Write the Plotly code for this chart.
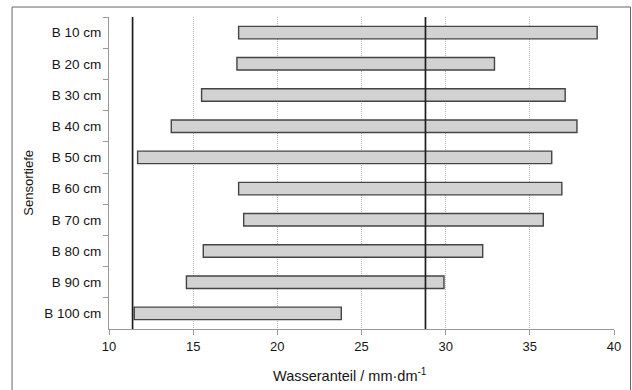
import plotly.graph_objects as go

# Sensor depths and the observed range of water content per depth
depths = ["B 10 cm", "B 20 cm", "B 30 cm", "B 40 cm", "B 50 cm",
          "B 60 cm", "B 70 cm", "B 80 cm", "B 90 cm", "B 100 cm"]
range_min = [17.7, 17.6, 15.5, 13.7, 11.7, 17.7, 18.0, 15.6, 14.6, 11.5]
range_max = [39.0, 32.9, 37.1, 37.8, 36.3, 36.9, 35.8, 32.2, 29.9, 23.8]

# Reference lines (lower and upper water content marks)
ref_lines = [11.4, 28.8]

x_ticks = [10, 15, 20, 25, 30, 35, 40]

FONT = "Liberation Sans, Arial, sans-serif"
TEXT = "#151515"

fig = go.Figure()
fig.add_trace(go.Bar(
    y=depths,
    base=range_min,
    x=[hi - lo for lo, hi in zip(range_min, range_max)],
    orientation="h",
    width=0.4,
    marker=dict(color="#d2d2d2", line=dict(color="#444444", width=1.4)),
    showlegend=False,
))

for xv in ref_lines:
    fig.add_shape(type="line", xref="x", yref="paper",
                  x0=xv, x1=xv, y0=0, y1=1,
                  line=dict(color="#1e1e1e", width=1.7))

# Outer frame around the chart
fig.add_shape(type="rect", xref="paper", yref="paper",
              x0=-0.192, x1=1.0327, y0=-0.25, y1=1.032,
              line=dict(color="#666666", width=1), layer="below")

# Axis titles placed as annotations
fig.add_annotation(text="Wasseranteil / mm·dm<sup>-1</sup>",
                   xref="paper", yref="paper", x=0.477, y=-0.147,
                   showarrow=False, xanchor="center", yanchor="middle",
                   font=dict(family=FONT, size=14.5, color=TEXT))
fig.add_annotation(text="Sensortiefe", textangle=-90,
                   xref="paper", yref="paper", x=-0.160, y=0.4696,
                   showarrow=False, xanchor="center", yanchor="middle",
                   font=dict(family=FONT, size=13, color=TEXT))

fig.update_layout(
    width=632, height=390,
    margin=dict(l=109, r=18, t=17, b=61),
    paper_bgcolor="white", plot_bgcolor="white",
    font=dict(family=FONT, size=13, color=TEXT),
    xaxis=dict(
        range=[10, 40], tickvals=x_ticks, ticktext=[str(v) for v in x_ticks],
        showgrid=True, gridcolor="#b8b8b8", griddash="1px,1px", gridwidth=1,
        showline=True, linecolor="#999999", linewidth=1,
        ticks="outside", ticklen=5, tickcolor="#999999",
        zeroline=False,
        tickfont=dict(size=13),
    ),
    yaxis=dict(
        categoryorder="array", categoryarray=depths, autorange="reversed",
        showgrid=False, showline=True, linecolor="#999999", linewidth=1,
        ticks="outside", ticklen=5, tickcolor="#999999",
        tickson="boundaries",
        tickfont=dict(size=13.5),
        ticklabelstandoff=4,
    ),
)

fig.write_html("out.html")
